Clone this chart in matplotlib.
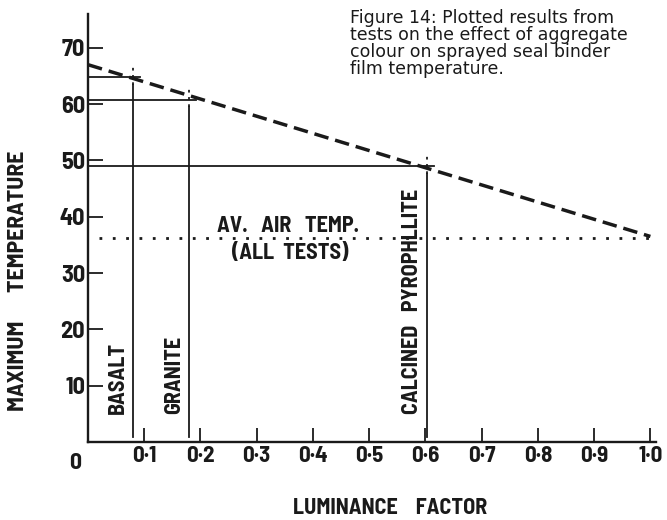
import numpy as np
import matplotlib
matplotlib.use("Agg")
import matplotlib.pyplot as plt

# aggregate results (luminance factor vs max binder temperature)
aggregates = ["BASALT", "GRANITE", "CALCINED   PYROPHLLITE"]
luminance = [0.08, 0.18, 0.603]
max_temp = [64.8, 60.8, 49.0]

# fitted line and average air temperature
trend_x = [0.0, 1.0]
trend_y = [67.0, 36.5]
air_temp = 36.3
air_x = [0.02, 1.0]

xticks = [0.1, 0.2, 0.3, 0.4, 0.5, 0.6, 0.7, 0.8, 0.9, 1.0]
xticklabels = ["0·1", "0·2", "0·3", "0·4", "0·5", "0·6", "0·7", "0·8", "0·9", "1·0"]
yticks = [10, 20, 30, 40, 50, 60, 70]

caption = ("Figure 14: Plotted results from\n"
           "tests on the effect of aggregate\n"
           "colour on sprayed seal binder\n"
           "film temperature.")

cond = ["Barlow Semi Condensed", "DejaVu Sans"]
ink = "#1a1a1a"
bold = dict(fontfamily=cond, fontweight="bold", fontstretch="condensed", color=ink)

fig = plt.figure(figsize=(6.67, 5.2), dpi=100)
ax = fig.add_axes([88/667, 78/520, 568/667, 428/520])
ax.set_xlim(0, 1.01)
ax.set_ylim(0, 76)

for s in ["top", "right"]:
    ax.spines[s].set_visible(False)
for s in ["left", "bottom"]:
    ax.spines[s].set_linewidth(1.7)
    ax.spines[s].set_color(ink)

ax.set_yticks(yticks)
ax.set_yticklabels([str(v) for v in yticks], fontsize=17.5, **bold)
ax.tick_params(axis="y", direction="in", length=11, width=1.3, pad=2, colors=ink)
ax.set_xticks(xticks)
ax.set_xticklabels(xticklabels, fontsize=16.5, **bold)
ax.tick_params(axis="x", direction="in", length=10, width=1.3, pad=3, colors=ink)
ax.text(-0.023, -2.0, "0", ha="center", va="top", fontsize=17, clip_on=False, **bold)

# trend line
ax.plot(trend_x, trend_y, color=ink, lw=2.5, dashes=(4.2, 2.0), zorder=3)

# air temperature
ax.plot(air_x, [air_temp, air_temp], color=ink, lw=2.0, dashes=(1, 3.8), zorder=3)
ax.text(0.356, 38.3, "AV.   AIR   TEMP.", ha="center", va="center", fontsize=16, **bold)
ax.text(0.36, 33.6, "(ALL  TESTS)", ha="center", va="center", fontsize=16, **bold)

# results: horizontal and vertical construction lines
for name, lx, ty in zip(aggregates, luminance, max_temp):
    ax.plot([0, lx + 0.012], [ty, ty], color=ink, lw=1.3, zorder=2)
    ax.plot([lx, lx], [0.9, ty - 1.4], color=ink, lw=1.3, zorder=2)
    ax.plot([lx, lx], [ty - 1.4, ty + 2.4], color=ink, lw=1.3,
            dashes=(1.5, 2.5), zorder=2)
    ax.text(lx - 0.009, 5.0, name, rotation=90, ha="right", va="bottom",
            fontsize=16, **bold)

fig.text(18.5/667, 1 - 281/520, "MAXIMUM      TEMPERATURE", rotation=90, ha="center",
         va="center", fontsize=17, **bold)
fig.text(390/667, 1 - 508/520, "LUMINANCE    FACTOR", ha="center", va="center",
         fontsize=16, **bold)

fig.text(350/667, 1 - 9/520, caption, ha="left", va="top", fontfamily="DejaVu Sans",
         fontsize=12.5, linespacing=0.92, color=ink)

fig.savefig("out.png", dpi=100)
